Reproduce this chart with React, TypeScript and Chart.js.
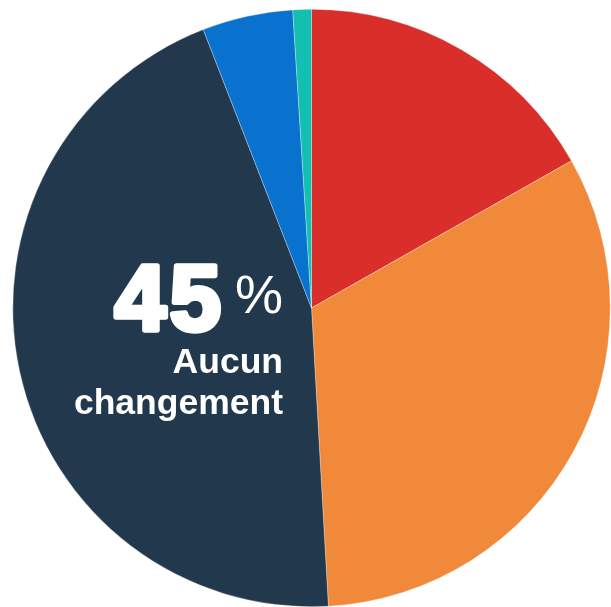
import React, { useEffect, useRef } from "react";
import { Chart, registerables } from "chart.js";

Chart.register(...registerables);

const categories = ["Rouge", "Orange", "Aucun changement", "Bleu", "Turquoise"];
const values = [16.8, 32.3, 45, 4.9, 1];
const colors = ["#D92E29", "#F08A3A", "#22384D", "#0971CE", "#12BFB0"];
const bigValue = "45";
const bigUnit = "%";
const labelLines = ["Aucun", "changement"];

const textPlugin = {
  id: "centerText",
  afterDraw(chart: any) {
    const ctx = chart.ctx;
    ctx.save();
    ctx.fillStyle = "#ffffff";
    ctx.strokeStyle = "#ffffff";
    ctx.textAlign = "right";
    ctx.textBaseline = "alphabetic";
    ctx.font = "bold 92px 'Liberation Sans', Arial, sans-serif";
    ctx.letterSpacing = "4px";
    ctx.lineWidth = 5.5;
    ctx.lineJoin = "round";
    ctx.strokeText(bigValue, 225, 330);
    ctx.fillText(bigValue, 225, 330);
    ctx.letterSpacing = "0px";
    ctx.font = "54px 'Liberation Sans', Arial, sans-serif";
    ctx.fillText(bigUnit, 283, 313);
    ctx.font = "bold 35.5px 'Liberation Sans', Arial, sans-serif";
    ctx.fillText(labelLines[0], 283, 373);
    ctx.fillText(labelLines[1], 283, 414);
    ctx.restore();
  },
};

export default function App() {
  const ref = useRef<HTMLCanvasElement>(null);
  useEffect(() => {
    if (!ref.current) return;
    const chart = new Chart(ref.current, {
      type: "pie",
      data: {
        labels: categories,
        datasets: [
          {
            data: values,
            backgroundColor: colors,
            borderColor: "rgba(255,255,255,0.5)",
            borderWidth: 0.6,
          },
        ],
      },
      options: {
        animation: false,
        responsive: false,
        maintainAspectRatio: false,
        layout: { padding: { left: 12.5, right: 0.5, top: 9, bottom: 0 } },
        plugins: {
          legend: { display: false },
          tooltip: { enabled: false },
        },
      },
      plugins: [textPlugin],
    });
    return () => chart.destroy();
  }, []);
  return (
    <div style={{ position: "absolute", left: 0, top: 0, width: 611, height: 607, background: "#fff" }}>
      <canvas ref={ref} width={611} height={607} style={{ display: "block" }} />
    </div>
  );
}
